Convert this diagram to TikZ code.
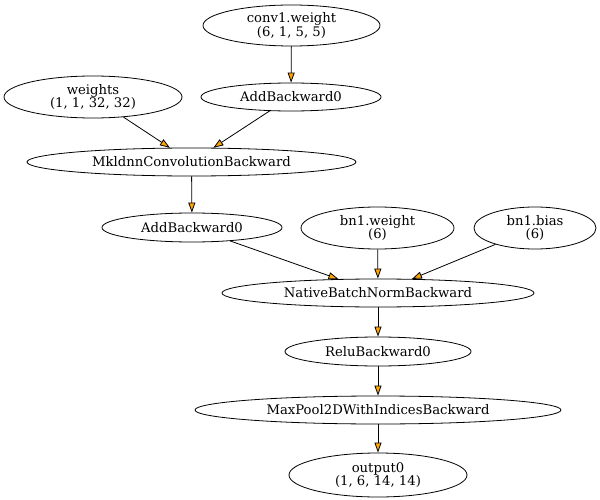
\documentclass[tikz,border=0pt]{standalone}
\usepackage{fontspec}
\setmainfont{DejaVu Serif}
\usetikzlibrary{shapes.geometric,arrows.meta}
\definecolor{tipor}{RGB}{255,165,0}
\tikzset{
  gnode/.style={ellipse,draw=black,line width=0.8pt,inner sep=0pt,align=center,
    font=\fontsize{13.2}{12.8}\selectfont},
  gedge/.style={draw=black,line width=0.8pt,-{Triangle[length=10pt,width=7pt,fill=tipor]}}
}
\begin{document}
\begin{tikzpicture}[x=1pt,y=-1pt]
\useasboundingbox (0,0) rectangle (600,500);
\node[gnode,minimum width=177pt,minimum height=41pt] (cw) at (291.5,25.5) {conv1.weight\\(6, 1, 5, 5)};
\node[gnode,minimum width=180pt,minimum height=28pt] (add1) at (291,97) {AddBackward0};
\node[gnode,minimum width=178pt,minimum height=42pt] (w) at (93,97) {weights\\(1, 1, 32, 32)};
\node[gnode,minimum width=329pt,minimum height=28pt] (mk) at (191.5,162) {MkldnnConvolutionBackward};
\node[gnode,minimum width=180pt,minimum height=29pt] (add2) at (192,227.5) {AddBackward0};
\node[gnode,minimum width=153pt,minimum height=42pt] (bw) at (377.5,228) {bn1.weight\\(6)};
\node[gnode,minimum width=122pt,minimum height=42pt] (bb) at (535,228) {bn1.bias\\(6)};
\node[gnode,minimum width=312pt,minimum height=28pt] (nb) at (378,293) {NativeBatchNormBackward};
\node[gnode,minimum width=186pt,minimum height=29pt] (relu) at (378,351.5) {ReluBackward0};
\node[gnode,minimum width=366pt,minimum height=28pt] (mp) at (378,410) {MaxPool2DWithIndicesBackward};
\node[gnode,minimum width=178pt,minimum height=44pt] (out) at (378,475) {output0\\(1, 6, 14, 14)};
\draw[gedge] (cw) -- (add1);
\draw[gedge] (w) -- (mk);
\draw[gedge] (add1) -- (mk);
\draw[gedge] (mk) -- (add2);
\draw[gedge] (add2) -- (nb);
\draw[gedge] (bw) -- (nb);
\draw[gedge] (bb) -- (nb);
\draw[gedge] (nb) -- (relu);
\draw[gedge] (relu) -- (mp);
\draw[gedge] (mp) -- (out);
\end{tikzpicture}
\end{document}
